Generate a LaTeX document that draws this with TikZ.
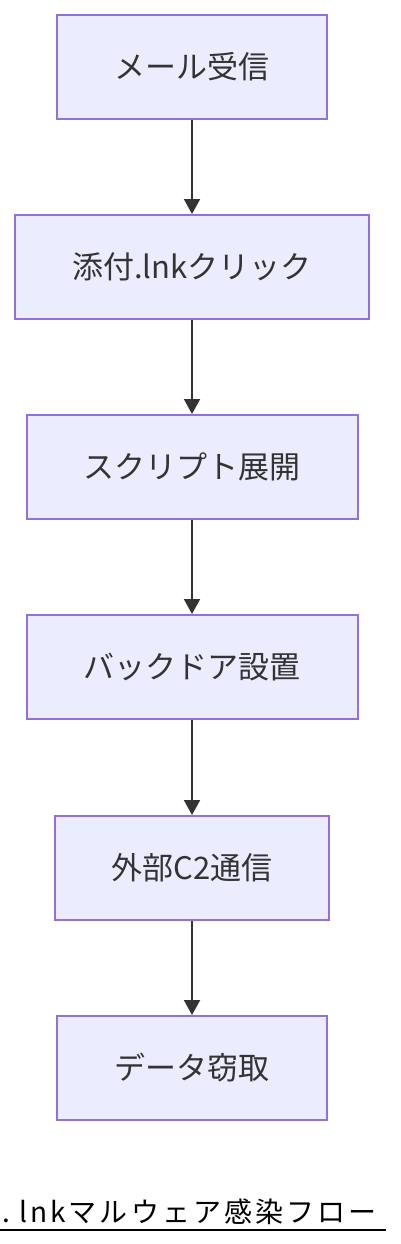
\documentclass[tikz,border=0pt]{standalone}
\usepackage{fontspec}
\setmainfont{Noto Sans CJK JP}
\newfontfamily\titlefont[LetterSpace=11]{Noto Sans CJK JP}
\usetikzlibrary{arrows.meta}
\definecolor{boxfill}{HTML}{ECECFF}
\definecolor{boxline}{HTML}{9370DB}
\definecolor{ink}{HTML}{333333}
\begin{document}
\begin{tikzpicture}[x=1pt, y=-1pt, line width=2pt, >={Triangle[length=15pt,width=16pt]},main node/.style={rectangle,draw=boxline,fill=boxfill,minimum height=104pt,inner sep=0pt,text=ink}]%
\useasboundingbox (0,0) rectangle (400,1244);
\begin{scope}[every node/.style={font=\fontsize{31}{36}\selectfont}]
\node[main node, minimum width=270pt] (v1) at (192,67) {メール受信};
\node[main node, minimum width=354pt] (v2) at (192,267) {添付.lnkクリック};
\node[main node, minimum width=331pt] (v3) at (192,467) {スクリプト展開};
\node[main node, minimum width=331pt] (v4) at (192,667) {バックドア設置};
\node[main node, minimum width=274pt] (v5) at (192,868) {外部C2通信};
\node[main node, minimum width=270pt] (v6) at (192,1068) {データ窃取};
%\node[main node] (v) at (,) {};
\end{scope}
\begin{scope}[draw=ink]
\draw[->]  (v1) edge node{} (v2);
\draw[->]  (v2) edge node{} (v3);
\draw[->]  (v3) edge node{} (v4);
\draw[->]  (v4) edge node{} (v5);
\draw[->]  (v5) edge node{} (v6);
\end{scope}
\node[anchor=base west, inner sep=0pt, font=\titlefont\fontsize{28}{33}\selectfont] (title) at (1,1222) {.\ lnkマルウェア感染フロー};
\coordinate (ul) at (0,1230);
\coordinate (ur) at (386,1230);
\draw[black] (ul) -- (ur);
\end{tikzpicture}
\end{document}
